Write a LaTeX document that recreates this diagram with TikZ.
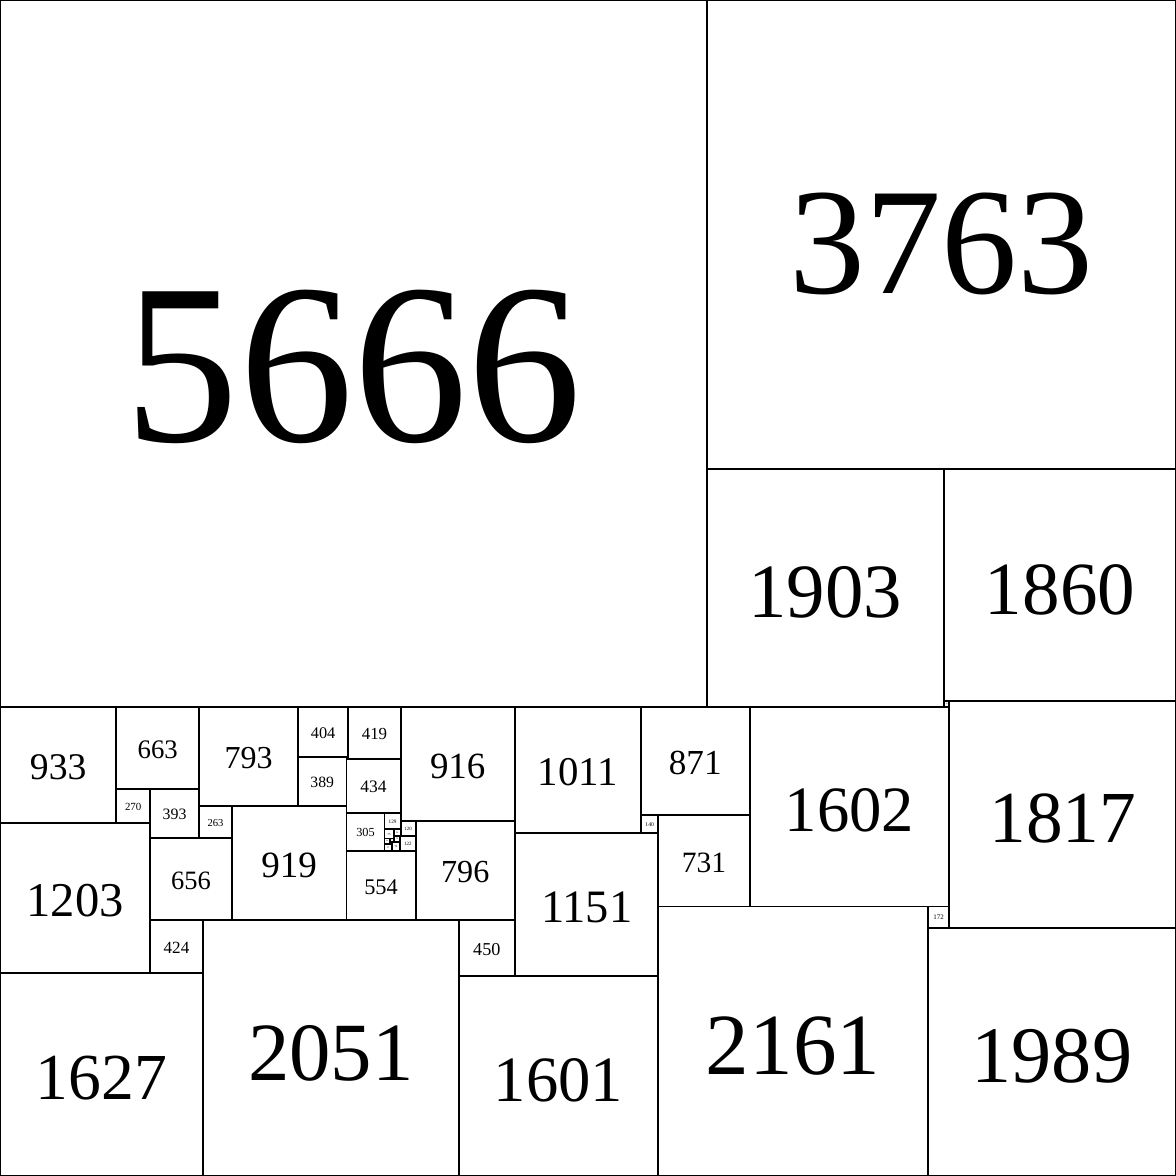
\documentclass[tikz,border=0pt]{standalone}
\usepackage{fontspec}
\setmainfont{Liberation Serif}
\begin{document}
\begin{tikzpicture}[x=0.002cm,y=-0.002cm,
  tile/.style={draw,line width=0.85pt,inner sep=0pt,outer sep=0pt,anchor=north west}]
\useasboundingbox (0,0) rectangle (9429,9429);

% x / y of the top left corner / side
\foreach \x/\y/\s in {0/0/5666, 5666/0/3763, 5666/3763/1903, 7569/3763/1860,
  7569/5623/43, 7612/5623/1817, 6010/5666/1602, 7440/7268/172, 7440/7440/1989,
  5279/7268/2161, 5139/5666/871, 5279/6537/731, 5139/6537/140,
  4128/5666/1011, 4128/6677/1151, 3678/7828/1601, 3678/7378/450,
  3212/5666/916, 3332/6582/796, 3212/6582/120, 3210/6702/122, 3083/6519/129,
  2778/6824/554, 2778/6519/305, 2778/6085/434, 2793/5666/419, 2778/6070/15,
  2389/5666/404, 2389/6070/389, 1596/5666/793, 1596/6459/263, 1859/6459/919,
  933/5666/663, 933/6329/270, 1203/6329/393, 0/5666/933, 0/6599/1203,
  1203/6722/656, 1203/7378/424, 0/7802/1627, 1627/7378/2051,
  3083/6648/75, 3158/6648/54, 3158/6702/52, 3140/6754/70,
  3083/6767/57, 3083/6723/44, 3127/6723/31, 3127/6754/13}
{
  \pgfmathsetmacro{\w}{\s*0.002}
  \pgfmathsetmacro{\f}{\s*0.0184}
  \pgfmathsetmacro{\h}{\f*0.78}
  \node[tile,minimum size=\w cm,text height=\h pt,
    font=\fontsize{\f pt}{\f pt}\selectfont] (sq\s) at (\x,\y) {\s};
}
\end{tikzpicture}
\end{document}
